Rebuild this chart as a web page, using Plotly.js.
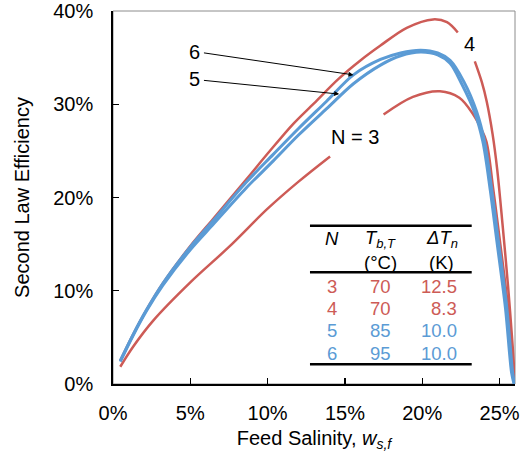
<!DOCTYPE html>
<html>
<head>
<meta charset="utf-8">
<script src="https://cdn.plot.ly/plotly-3.0.1.min.js"></script>
<style>html,body{margin:0;padding:0;background:#fff}#chart{width:522px;height:459px}</style>
</head>
<body>
<div id="chart"></div>
<script>
// Feed salinity (%) and second law efficiency (%) for each N
const n3x = [0.47, 1.3, 2.6, 5.0, 7.5, 10.0, 12.0, 14.04, null, 17.5, 19.4, 21.15, 22.4, 23.3, 23.8, 24.15, 24.6, 25.02, 25.55, 25.9, 26.0];
const n3y = [1.85, 4.0, 6.8, 10.9, 14.7, 18.8, 21.7, 24.4, null, 28.9, 30.8, 31.4, 30.7, 28.9, 27.4, 26.0, 20.8, 15.4, 8.2, 1.6, 0];

const n4x = [0.47, 1.3, 2.15, 3.23, 5.0, 6.47, 8.6, 10.1, 11.66, 13.0, 14.57, 16.0, 17.3, 19.0, 20.7, 21.6, 22.3, null, 23.4, 23.85, 24.17, 24.55, 24.85, 25.2, 25.55, 25.85, 26.0];
const n4y = [2.5, 5.3, 7.9, 10.8, 14.8, 17.7, 21.9, 24.9, 27.9, 30.1, 32.7, 34.7, 36.3, 38.2, 39.1, 38.8, 37.7, null, 34.6, 32.4, 30.3, 26.8, 23.0, 17.0, 10.5, 4.0, 0];

const n5x = [0.47, 1.3, 2.15, 3.23, 5.0, 6.47, 8.6, 10.35, 12.0, 13.8, 15.55, 17.3, 18.6, 19.9, 21.0, 21.8, 22.55, 23.4, 23.92, 24.4, 24.82, 25.38, 25.78, 25.94];
const n5y = [2.4, 5.2, 7.8, 10.6, 14.4, 17.1, 21.0, 23.9, 26.7, 29.5, 32.2, 34.2, 35.2, 35.6, 35.3, 34.4, 32.2, 29.1, 26.0, 20.8, 15.4, 8.2, 1.2, 0];

const n6x = [0.47, 1.3, 2.15, 3.23, 5.0, 6.47, 8.6, 10.35, 12.0, 13.8, 15.55, 17.3, 18.6, 19.9, 21.0, 21.8, 22.7, 23.52, 24.03, 24.5, 24.92, 25.47, 25.85, 25.97];
const n6y = [2.5, 5.3, 7.9, 10.8, 14.7, 17.5, 21.6, 24.6, 27.4, 30.3, 33.15, 34.8, 35.5, 35.8, 35.5, 34.7, 32.4, 29.2, 26.0, 20.8, 15.4, 8.2, 1.2, 0];

// Axis ticks
const xTickVals = [0, 5, 10, 15, 20, 25];
const xTickText = ['0%', '5%', '10%', '15%', '20%', '25%'];
const yTickVals = [0, 10, 20, 30, 40];
const yTickText = ['0%', '10%', '20%', '30%', '40%'];

// Table contents
const tableN = ['3', '4', '5', '6'];
const tableTb = ['70', '70', '85', '95'];
const tableDT = ['12.5', '8.3', '10.0', '10.0'];

const RED = '#cd5b56';
const BLUE = '#5b9bd5';
const FONT = 'Liberation Sans, Arial, sans-serif';
const rowColors = [RED, RED, BLUE, BLUE];

const traces = [
  {x: n3x, y: n3y, mode: 'lines', line: {color: RED, width: 2.5, shape: 'spline', smoothing: 1}, connectgaps: false, name: 'N=3'},
  {x: n4x, y: n4y, mode: 'lines', line: {color: RED, width: 2.5, shape: 'spline', smoothing: 0.9}, connectgaps: false, name: 'N=4'},
  {x: n5x, y: n5y, mode: 'lines', line: {color: BLUE, width: 3, shape: 'spline', smoothing: 0.9}, name: 'N=5'},
  {x: n6x, y: n6y, mode: 'lines', line: {color: BLUE, width: 3, shape: 'spline', smoothing: 0.9}, name: 'N=6'}
];

// table geometry (data coords)
const tX0 = 12.74, tX1 = 23.2;
const colN = 14.15, colTb = 17.33, colDTright = 22.4, colDTc = 21.26;
const rowY = [10.46, 8.08, 5.69, 3.28];

const annotations = [];
const txt = (text, x, y, color, xanchor, size) => ({
  text, x, y, xref: 'x', yref: 'y', showarrow: false,
  xanchor: xanchor || 'center', yanchor: 'middle',
  font: {family: FONT, size: size || 18.5, color: color || '#000'}
});
annotations.push(txt('<i>N</i>', colN, 15.6));
annotations.push(txt('<i>T<sub>b,T</sub></i>', colTb, 15.6));
annotations.push(txt('(°C)', colTb, 13.05));
annotations.push(txt('<i>ΔT<sub>n</sub></i>', colDTc, 15.6));
annotations.push(txt('(K)', colDTc, 13.05));
for (let i = 0; i < tableN.length; i++) {
  annotations.push(txt(tableN[i], colN, rowY[i], rowColors[i]));
  annotations.push(txt(tableTb[i], colTb, rowY[i], rowColors[i]));
  annotations.push(txt(tableDT[i], colDTright, rowY[i], rowColors[i], 'right'));
}
// curve labels
annotations.push(txt('4', 23.03, 36.5, '#000', 'center', 20));
annotations.push(txt('N = 3', 15.65, 26.47, '#000', 'center', 20));
annotations.push({
  text: '6', x: 15.55, y: 33.15, ax: 5.3, ay: 35.65, xref: 'x', yref: 'y', axref: 'x', ayref: 'y',
  showarrow: true, arrowhead: 2, arrowsize: 1, arrowwidth: 1, arrowcolor: '#000', borderpad: 3,
  font: {family: FONT, size: 20, color: '#000'}
});
annotations.push({
  text: '5', x: 14.63, y: 31.09, ax: 5.3, ay: 32.66, xref: 'x', yref: 'y', axref: 'x', ayref: 'y',
  showarrow: true, arrowhead: 2, arrowsize: 1, arrowwidth: 1, arrowcolor: '#000', borderpad: 3,
  font: {family: FONT, size: 20, color: '#000'}
});

const hline = (y) => ({type: 'line', xref: 'x', yref: 'y', x0: tX0, x1: tX1, y0: y, y1: y, line: {color: '#000', width: 2.5}});

const layout = {
  width: 522, height: 459,
  margin: {l: 113, r: 7, t: 11, b: 75},
  paper_bgcolor: '#fff', plot_bgcolor: '#fff',
  showlegend: false,
  font: {family: FONT, size: 20, color: '#000'},
  xaxis: {
    range: [0, 26], tickmode: 'array', tickvals: xTickVals, ticktext: xTickText,
    showgrid: false, zeroline: false, showline: true, linecolor: '#000', linewidth: 1.8,
    ticks: 'inside', ticklen: 6, tickwidth: 1.3, tickcolor: '#000', ticklabelstandoff: 10,
    ticklabeloverflow: 'allow',
    tickfont: {family: FONT, size: 20, color: '#000'},
    title: {text: 'Feed Salinity, <i>w<sub>s,f</sub></i>', font: {family: FONT, size: 20, color: '#000'}, standoff: 8}
  },
  yaxis: {
    range: [0, 40], tickmode: 'array', tickvals: yTickVals, ticktext: yTickText,
    showgrid: false, zeroline: false, showline: true, linecolor: '#000', linewidth: 1.8,
    ticks: 'inside', ticklen: 6, tickwidth: 1.3, tickcolor: '#000', ticklabelstandoff: 14,
    ticklabeloverflow: 'allow',
    tickfont: {family: FONT, size: 20, color: '#000'},
    title: {text: 'Second Law Efficiency', font: {family: FONT, size: 20, color: '#000'}, standoff: 18}
  },
  shapes: [
    {type: 'rect', xref: 'paper', yref: 'paper', x0: 0, x1: 1, y0: 0, y1: 1, line: {color: '#8c8c8c', width: 1}, layer: 'below'},
    hline(16.97), hline(11.98), hline(2.13)
  ],
  annotations
};

Plotly.newPlot('chart', traces, layout, {displayModeBar: false, staticPlot: true});
</script>
</body>
</html>
